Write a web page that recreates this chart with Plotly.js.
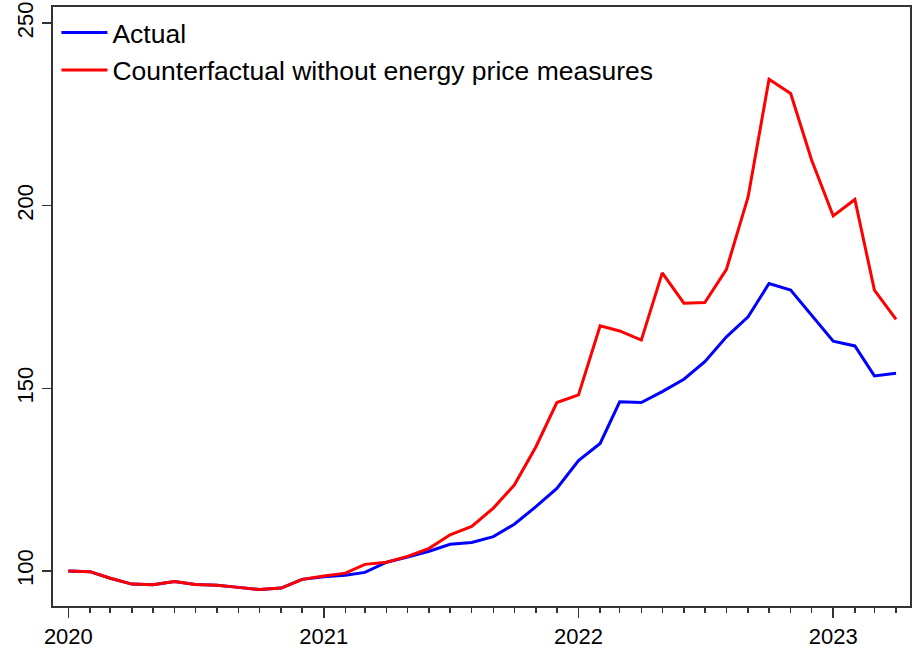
<!DOCTYPE html>
<html>
<head>
<meta charset="utf-8">
<script src="https://cdn.plot.ly/plotly-3.0.1.min.js"></script>
<style>html,body{margin:0;padding:0;background:#fff;}#chart{width:912px;height:651px;}</style>
</head>
<body>
<div id="chart"></div>
<script>
const months = [
  '2020-01-01','2020-02-01','2020-03-01','2020-04-01','2020-05-01','2020-06-01',
  '2020-07-01','2020-08-01','2020-09-01','2020-10-01','2020-11-01','2020-12-01',
  '2021-01-01','2021-02-01','2021-03-01','2021-04-01','2021-05-01','2021-06-01',
  '2021-07-01','2021-08-01','2021-09-01','2021-10-01','2021-11-01','2021-12-01',
  '2022-01-01','2022-02-01','2022-03-01','2022-04-01','2022-05-01','2022-06-01',
  '2022-07-01','2022-08-01','2022-09-01','2022-10-01','2022-11-01','2022-12-01',
  '2023-01-01','2023-02-01','2023-03-01','2023-04-01'
];
const actual = [
  100.0, 99.8, 98.0, 96.4, 96.2, 97.1, 96.3, 96.1, 95.5, 94.9, 95.3, 97.7,
  98.4, 98.8, 99.6, 102.4, 103.8, 105.4, 107.3, 107.8, 109.4, 112.8, 117.6, 122.6,
  130.2, 134.9, 146.3, 146.1, 149.1, 152.5, 157.3, 164.1, 169.6, 178.7, 176.9, 170.1,
  162.9, 161.6, 153.4, 154.1
];
const counterfactual = [
  100.0, 99.8, 98.0, 96.4, 96.2, 97.1, 96.3, 96.1, 95.5, 94.9, 95.3, 97.7,
  98.6, 99.4, 101.8, 102.4, 104.0, 106.2, 109.9, 112.2, 117.2, 123.5, 134.0, 146.1,
  148.2, 167.1, 165.7, 163.2, 181.6, 173.3, 173.5, 182.6, 202.4, 234.6, 230.7, 212.5,
  197.2, 201.7, 176.9, 168.9
];
const seriesNames = ['Actual', 'Counterfactual without energy price measures'];
const yTicks = [100, 150, 200, 250];

const font = {family: 'Arial, "Liberation Sans", sans-serif', color: '#000'};

const data = [
  {x: months, y: actual, type: 'scatter', mode: 'lines', name: seriesNames[0],
   line: {color: '#0000FF', width: 3}},
  {x: months, y: counterfactual, type: 'scatter', mode: 'lines', name: seriesNames[1],
   line: {color: '#FF0000', width: 3}}
];

const layout = {
  width: 912, height: 651,
  margin: {l: 53, r: 2, t: 7, b: 45, pad: 0},
  paper_bgcolor: '#fff', plot_bgcolor: '#fff',
  font: Object.assign({size: 22}, font),
  showlegend: true,
  legend: {x: 0.004, y: 0.997, xanchor: 'left', yanchor: 'top',
           bgcolor: 'rgba(0,0,0,0)', font: Object.assign({size: 26.5}, font),
           itemwidth: 46, tracegroupgap: 0},
  xaxis: {
    type: 'date',
    range: ['2019-12-10', '2023-04-21'],
    tickmode: 'linear', tick0: '2020-01-01', dtick: 'M12', tickformat: '%Y',
    ticks: 'outside', ticklen: 10, tickwidth: 1.5, tickcolor: '#333',
    minor: {dtick: 'M1', tick0: '2020-01-01', ticks: 'outside', ticklen: 5, tickwidth: 1.5, tickcolor: '#333', showgrid: false},
    showline: true, linecolor: '#333', linewidth: 2, mirror: true,
    showgrid: false, zeroline: false,
    tickfont: Object.assign({size: 22}, font)
  },
  yaxis: {
    range: [90.4, 254.4],
    tickmode: 'array', tickvals: yTicks, ticktext: yTicks.map(String),
    tickangle: -90,
    ticks: 'outside', ticklen: 9, tickwidth: 1.5, tickcolor: '#333',
    showline: true, linecolor: '#333', linewidth: 2, mirror: true,
    showgrid: false, zeroline: false,
    tickfont: Object.assign({size: 22}, font)
  }
};

Plotly.newPlot('chart', data, layout, {displayModeBar: false, staticPlot: true});
</script>
</body>
</html>
